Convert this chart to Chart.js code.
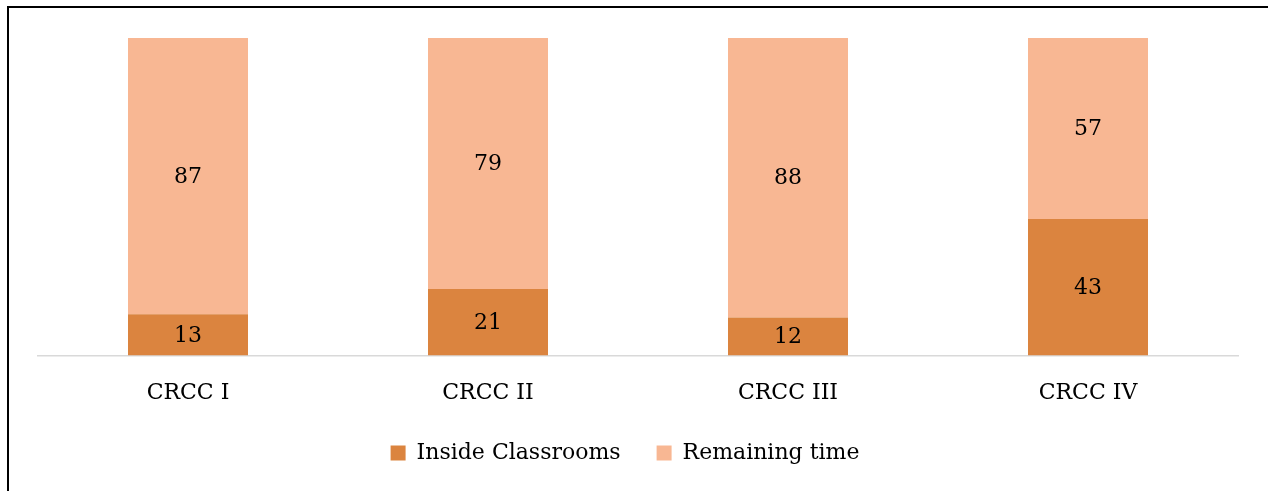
<!DOCTYPE html>
<html>
<head>
<meta charset="utf-8">
<script src="https://cdn.jsdelivr.net/npm/chart.js@4/dist/chart.umd.min.js"></script>
<style>
html,body{margin:0;padding:0;background:#fff;overflow:hidden;}
#wrap{position:absolute;left:0;top:0;width:1268px;height:491px;}
#frame{position:absolute;left:7px;top:6px;width:1300px;height:520px;border-left:2.5px solid #000;border-top:2.5px solid #000;pointer-events:none;}
</style>
</head>
<body>
<div id="wrap"><canvas id="c" width="1268" height="491"></canvas></div>
<div id="frame"></div>
<script>
const categories = ["CRCC I", "CRCC II", "CRCC III", "CRCC IV"];
const insideClassrooms = [13, 21, 12, 43];
const remainingTime = [87, 79, 88, 57];
const seriesNames = ["Inside Classrooms", "Remaining time"];

const FONT = "'DejaVu Serif', 'Liberation Serif', serif";
const LEGEND_TRIM = 24;

const valueLabels = {
  id: 'valueLabels',
  afterDatasetsDraw(chart) {
    const ctx = chart.ctx;
    ctx.save();
    ctx.font = "22px " + FONT;
    ctx.fillStyle = "#000";
    ctx.textAlign = "center";
    ctx.textBaseline = "middle";
    chart.data.datasets.forEach((ds, i) => {
      const meta = chart.getDatasetMeta(i);
      meta.data.forEach((bar, j) => {
        const y = (bar.y + bar.base) / 2;
        ctx.fillText(String(ds.data[j]), bar.x, y + 1);
      });
    });
    ctx.restore();
  }
};

const legendTweak = {
  id: 'legendTweak',
  afterInit(chart) {
    const lg = chart.legend;
    if (lg && !lg._trimmed) {
      const orig = lg.fit;
      lg.fit = function () { orig.call(this); this.height -= LEGEND_TRIM; };
      lg._trimmed = true;
    }
  },
  afterLayout(chart) {
    const lg = chart.legend;
    if (lg) {
      lg.left -= 13;
      lg.right -= 13;
      lg.top -= LEGEND_TRIM;
      lg.height += LEGEND_TRIM;
    }
  }
};

new Chart(document.getElementById('c'), {
  type: 'bar',
  data: {
    labels: categories,
    datasets: [
      { label: seriesNames[0], data: insideClassrooms, backgroundColor: '#DB843F', borderWidth: 0 },
      { label: seriesNames[1], data: remainingTime, backgroundColor: '#F8B793', borderWidth: 0 }
    ]
  },
  options: {
    responsive: false,
    animation: false,
    datasets: { bar: { categoryPercentage: 1, barPercentage: 0.4 } },
    layout: { padding: { left: 38, right: 30, top: 38, bottom: 17 } },
    plugins: {
      tooltip: { enabled: false },
      legend: {
        position: 'bottom',
        labels: {
          font: { family: FONT, size: 22 },
          color: '#000',
          boxWidth: 15,
          boxHeight: 15,
          padding: 36
        }
      }
    },
    scales: {
      x: {
        stacked: true,
        grid: { display: false, drawTicks: false },
        border: { display: true, color: '#D9D9D9', width: 1.5 },
        ticks: { font: { family: FONT, size: 22 }, color: '#000', padding: 24 }
      },
      y: {
        stacked: true,
        min: 0,
        max: 100,
        display: false
      }
    }
  },
  plugins: [valueLabels, legendTweak]
});
</script>
</body>
</html>
